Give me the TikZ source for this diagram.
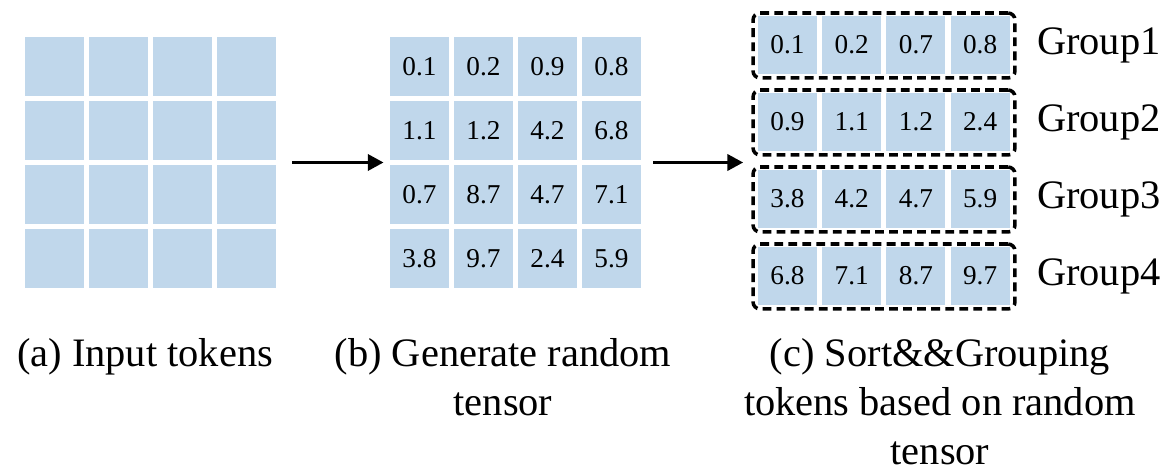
\documentclass[tikz,border=0pt]{standalone}
\usepackage{fontspec}
\setmainfont{Liberation Serif}
\usepackage{xcolor}
\usetikzlibrary{arrows.meta,calc,positioning}
\definecolor{tokblue}{RGB}{192,215,235}

\begin{document}
\begin{tikzpicture}[x=0.02cm,y=-0.02cm,
  cell/.style={fill=tokblue,minimum width=1.18cm,minimum height=1.18cm,inner sep=0pt,font=\fontsize{15.5}{18}\selectfont},
  ccell/.style={cell,minimum height=1.16cm},
  grp/.style={draw,line width=2pt,dash pattern=on 5pt off 3pt,rounded corners=4pt,minimum width=5.24cm,minimum height=1.3cm,inner sep=0pt},
  flow/.style={line width=2.2pt,-{Triangle[length=9pt,width=9pt]}},
  capnote/.style={align=center,anchor=north,inner sep=0pt,font=\fontsize{23}{27.8}\selectfont}]
\useasboundingbox (0,0) rectangle (1166,472);
% (a) input tokens
\foreach \i in {1,...,4}
  \foreach \j in {1,...,4}
    \node[cell] (a-\i-\j) at ({54.5+64*(\j-1)},{66.5+64*(\i-1)}) {};
% (b) random tensor
\foreach \row [count=\i] in {{0.1,0.2,0.9,0.8},{1.1,1.2,4.2,6.8},{0.7,8.7,4.7,7.1},{3.8,9.7,2.4,5.9}}
  \foreach \v [count=\j] in \row
    \node[cell] (b-\i-\j) at ({419.5+64*(\j-1)},{66.5+64*(\i-1)}) {\v};
% (c) sorted groups
\foreach \row [count=\i] in {{0.1,0.2,0.7,0.8},{0.9,1.1,1.2,2.4},{3.8,4.2,4.7,5.9},{6.8,7.1,8.7,9.7}}{
  \foreach \v [count=\j] in \row
    \node[ccell] (c-\i-\j) at ({787.5+64.2*(\j-1)},{45+77*(\i-1)}) {\v};
  \node[grp] (g-\i) at (884,{45.5+77*(\i-1)}) {};
  \node[anchor=west,inner sep=0pt,font=\fontsize{23}{28}\selectfont] (l-\i) at ([xshift=0.4cm]g-\i.east) {Group\i};
}
\coordinate (a-mid) at ($(a-2-4.south east)!.5!(a-3-4.north east)$);
\coordinate (b-mid) at ($(b-2-1.south west)!.5!(b-3-1.north west)$);
\coordinate (b-out) at ($(b-2-4.south east)!.5!(b-3-4.north east)$);
\draw[flow] ([xshift=0.32cm]a-mid) -- ([xshift=-0.12cm]b-mid);
\draw[flow] ([xshift=0.24cm]b-out) -- ([xshift=-0.16cm]b-out -| g-3.west);
% captions
\node[capnote] (cap-a) at (145,338) {(a) Input tokens};
\node[capnote] (cap-b) at (503,338) {(b) Generate random\\tensor};
\node[capnote] (cap-c) at (940,338) {(c) Sort\&\&Grouping\\tokens based on random\\tensor};
\end{tikzpicture}
\end{document}
